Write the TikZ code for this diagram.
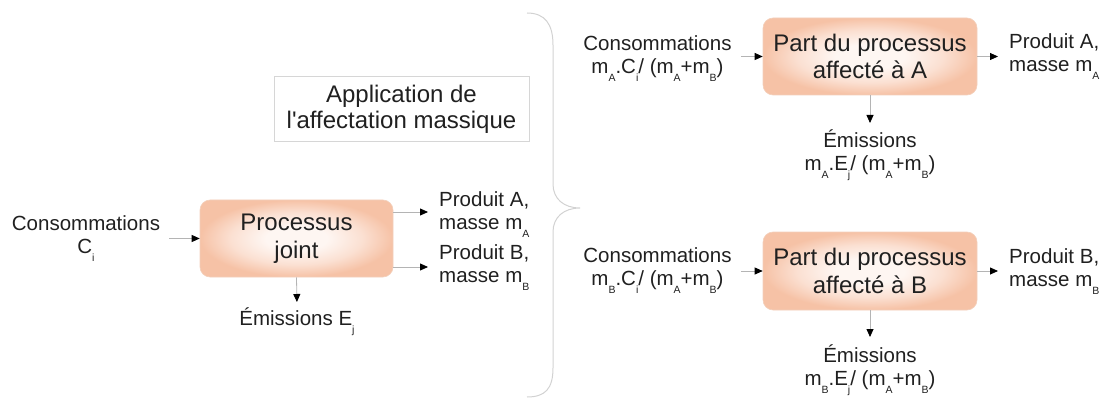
\documentclass[tikz,border=0pt]{standalone}
\usepackage{fontspec}
\setmainfont{Liberation Sans}
% same face without the TeX quote mapping, for a straight apostrophe
\newfontfamily\plainsans{Liberation Sans}
\usetikzlibrary{arrows.meta}

\definecolor{ink}{HTML}{202020}
\definecolor{flowgray}{HTML}{B4B4B4}
\definecolor{boxin}{HTML}{FEF6F2}
\definecolor{boxmid}{HTML}{FBE0D2}
\definecolor{boxout}{HTML}{F6C2A6}
\definecolor{boxedge}{HTML}{F3D0BC}
\definecolor{framegray}{HTML}{D6D6D6}
\definecolor{bracegray}{HTML}{D2D2D2}

% soft peach glow, light in the middle and deeper toward the rim
\pgfdeclareradialshading{peachglow}{\pgfpoint{0bp}{0bp}}{%
  color(0bp)=(boxin); color(8bp)=(boxin); color(17bp)=(boxmid);
  color(25bp)=(boxout); color(50bp)=(boxout)}

% lowered small subscript letter
\newcommand\lowsub[1]{\raisebox{-8pt}[0pt][0pt]{\fontsize{10.5}{10.5}\selectfont #1}}
% fixed ascent so that label tops sit at a known distance above the first baseline
\newcommand\topstrut{\rule{0pt}{19pt}}

\begin{document}
\begin{tikzpicture}[x=1pt,y=-1pt,
  procbox/.style={rounded corners=10pt, draw=boxedge, line width=0.6pt,
    shading=peachglow, align=center, text=ink,
    font=\fontsize{24}{27.5}\selectfont},
  lbl/.style={inner sep=0pt, align=center, text=ink,
    font=\fontsize{20.5}{23.5}\selectfont},
  lblleft/.style={lbl, align=left},
  flow/.style={draw=flowgray, line width=0.8pt,
    -{Triangle[length=8pt,width=7pt,color=black]}},
]
\useasboundingbox (0,0) rectangle (1101,401);

% ---------- joint process ----------
\node[procbox, minimum width=193pt, minimum height=77pt] (pj) at (296.5,238.5)
  {Processus\\joint};
\node[lbl, anchor=north] (cin) at (86,211)
  {\topstrut Consommations\\C\lowsub{i}};
\node[lblleft, anchor=north west] (pa) at (439,187)
  {\topstrut Produit A,\\masse m\lowsub{A}};
\node[lblleft, anchor=north west] (pb) at (439,240)
  {\topstrut Produit B,\\masse m\lowsub{B}};
\node[lbl, anchor=north] (ej) at (297,306)
  {\topstrut Émissions E\lowsub{j}};

\coordinate (pjA) at ([yshift=26.5pt]pj.east);
\coordinate (pjB) at ([yshift=-28.5pt]pj.east);

\draw[flow, shorten <=9pt] (cin.east |- pj.west) -- (pj.west);
\draw[flow, shorten >=11pt] (pjA) -- (pjA -| pa.west);
\draw[flow, shorten >=11pt] (pjB) -- (pjB -| pb.west);
\draw[flow, shorten >=4pt] (pj.south) -- (ej.north);

% ---------- caption box ----------
\node[draw=framegray, line width=1pt, fill=white, minimum width=255pt,
  minimum height=65pt, align=center, text=ink,
  font=\fontsize{24}{26}\selectfont] (cap) at (401.5,109.5)
  {Application de\\l{\plainsans'}affectation massique};

% ---------- brace ----------
\draw[bracegray, line width=1pt]
  (527,13) .. controls (545,13) and (553,24) .. (553,45)
  -- (553,184) .. controls (553,199) and (564,208) .. (580,208)
  .. controls (564,208) and (553,217) .. (553,232)
  -- (553,368) .. controls (553,389) and (545,397) .. (527,397);

% ---------- share allocated to A ----------
\node[procbox, minimum width=214pt, minimum height=77pt] (PA) at (870,56.5)
  {Part du processus\\affecté à A};
\node[lbl, anchor=north] (cina) at (657.5,31)
  {\topstrut Consommations\\m\lowsub{A}.C\lowsub{i}/ (m\lowsub{A}+m\lowsub{B})};
\node[lblleft, anchor=north west] (oa) at (1009,29)
  {\topstrut Produit A,\\masse m\lowsub{A}};
\node[lbl, anchor=north] (ea) at (870,128)
  {\topstrut Émissions\\m\lowsub{A}.E\lowsub{j}/ (m\lowsub{A}+m\lowsub{B})};

\draw[flow, shorten <=9pt] (cina.east |- PA.west) -- (PA.west);
\draw[flow, shorten >=11pt] (PA.east) -- (PA.east -| oa.west);
\draw[flow, shorten >=5pt] (PA.south) -- (ea.north);

% ---------- share allocated to B ----------
\node[procbox, minimum width=214pt, minimum height=78pt] (PB) at (870,271)
  {Part du processus\\affecté à B};
\node[lbl, anchor=north] (cinb) at (657.5,243)
  {\topstrut Consommations\\m\lowsub{B}.C\lowsub{i}/ (m\lowsub{A}+m\lowsub{B})};
\node[lblleft, anchor=north west] (ob) at (1009,244)
  {\topstrut Produit B,\\masse m\lowsub{B}};
\node[lbl, anchor=north] (eb) at (870,343)
  {\topstrut Émissions\\m\lowsub{B}.E\lowsub{j}/ (m\lowsub{A}+m\lowsub{B})};

\draw[flow, shorten <=9pt] (cinb.east |- PB.west) -- (PB.west);
\draw[flow, shorten >=11pt] (PB.east) -- (PB.east -| ob.west);
\draw[flow, shorten >=6pt] (PB.south) -- (eb.north);
\end{tikzpicture}
\end{document}
